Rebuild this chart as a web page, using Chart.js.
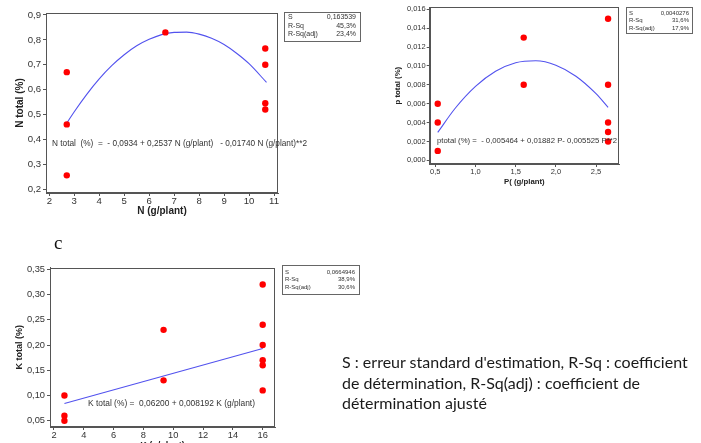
<!DOCTYPE html>
<html><head><meta charset="utf-8">
<script src="https://cdn.jsdelivr.net/npm/chart.js@4.4.1/dist/chart.umd.min.js"></script>
<style>
html,body{margin:0;padding:0;background:#fff;width:701px;height:443px;overflow:hidden;position:relative}
canvas{position:absolute}
.note{position:absolute;left:342px;font-family:Lato,'Open Sans',sans-serif;font-size:16px;line-height:20px;color:#1a1a1a;white-space:nowrap}
.lbl{position:absolute;left:54px;top:233px;font-family:'Liberation Serif',serif;font-size:19px;line-height:20px;color:#111}
</style></head><body>
<canvas id="cA" width="380" height="220" style="left:0;top:0"></canvas>
<canvas id="cB" width="321" height="200" style="left:380px;top:0"></canvas>
<canvas id="cC" width="380" height="240" style="left:0;top:220px"></canvas>
<div class="lbl">c</div>
<div class="note" style="top:352px">S : erreur standard d'estimation, R-Sq : coefficient</div>
<div class="note" style="top:373px">de détermination, R-Sq(adj) : coefficient de</div>
<div class="note" style="top:393px">détermination ajusté</div>
<script>
// ---- Chart A : N ----
const xA = [2.7, 2.7, 2.7, 6.65, 10.65, 10.65, 10.65, 10.65];
const yA = [0.67, 0.46, 0.255, 0.83, 0.765, 0.70, 0.545, 0.52];
const fitXA = [2.7, 3, 3.5, 4, 4.5, 5, 5.5, 6, 6.5, 7, 7.5, 8, 8.5, 9, 9.5, 10, 10.7];
const fitYA = [0.465, 0.511, 0.581, 0.643, 0.696, 0.740, 0.776, 0.802, 0.821, 0.830, 0.831, 0.823, 0.806, 0.781, 0.746, 0.704, 0.629];
const xTicksA = [2, 3, 4, 5, 6, 7, 8, 9, 10, 11];
const xLabelsA = ['2', '3', '4', '5', '6', '7', '8', '9', '10', '11'];
const yTicksA = [0.2, 0.3, 0.4, 0.5, 0.6, 0.7, 0.8, 0.9];
const yLabelsA = ['0,2', '0,3', '0,4', '0,5', '0,6', '0,7', '0,8', '0,9'];
const statsLabelsA = ['S', 'R-Sq', 'R-Sq(adj)'];
const statsValuesA = ['0,163539', '45,3%', '23,4%'];
const eqA = 'N total  (%)  =  - 0,0934 + 0,2537 N (g/plant)   - 0,01740 N (g/plant)**2';

// ---- Chart B : P ----
const xB = [0.53, 0.53, 0.53, 1.6, 1.6, 2.65, 2.65, 2.65, 2.65, 2.65];
const yB = [0.006, 0.004, 0.001, 0.013, 0.008, 0.015, 0.008, 0.004, 0.003, 0.002];
const fitXB = [0.53, 0.75, 1.0, 1.25, 1.5, 1.75, 2.0, 2.25, 2.5, 2.65];
const fitYB = [0.00296, 0.00554, 0.00783, 0.00943, 0.01034, 0.01055, 0.01008, 0.00891, 0.00706, 0.00561];
const xTicksB = [0.5, 1.0, 1.5, 2.0, 2.5];
const xLabelsB = ['0,5', '1,0', '1,5', '2,0', '2,5'];
const yTicksB = [0, 0.002, 0.004, 0.006, 0.008, 0.010, 0.012, 0.014, 0.016];
const yLabelsB = ['0,000', '0,002', '0,004', '0,006', '0,008', '0,010', '0,012', '0,014', '0,016'];
const statsLabelsB = ['S', 'R-Sq', 'R-Sq(adj)'];
const statsValuesB = ['0,0040276', '31,6%', '17,9%'];
const eqB = 'ptotal (%) =  - 0,005464 + 0,01882 P- 0,005525 P**2';

// ---- Chart C : K ----
const xC = [2.7, 2.7, 2.7, 9.35, 9.35, 16, 16, 16, 16, 16, 16];
const yC = [0.10, 0.06, 0.05, 0.23, 0.13, 0.32, 0.24, 0.20, 0.17, 0.16, 0.11];
const fitXC = [2.7, 16];
const fitYC = [0.0841, 0.1931];
const xTicksC = [2, 4, 6, 8, 10, 12, 14, 16];
const xLabelsC = ['2', '4', '6', '8', '10', '12', '14', '16'];
const yTicksC = [0.05, 0.10, 0.15, 0.20, 0.25, 0.30, 0.35];
const yLabelsC = ['0,05', '0,10', '0,15', '0,20', '0,25', '0,30', '0,35'];
const statsLabelsC = ['S', 'R-Sq', 'R-Sq(adj)'];
const statsValuesC = ['0,0664946', '38,9%', '30,6%'];
const eqC = 'K total (%) =  0,06200 + 0,008192 K (g/plant)';

const AX = '#555';
const TXT = '#333';

const deco = {
  id: 'deco',
  afterDatasetsDraw(chart, args, o) {
    const ctx = chart.ctx, ca = chart.chartArea;
    ctx.save();
    ctx.strokeStyle = AX; ctx.lineWidth = 1;
    ctx.strokeRect(Math.round(ca.left) + 0.5, Math.round(ca.top) + 0.5,
      Math.round(ca.right) - Math.round(ca.left) - 1, Math.round(ca.bottom) - Math.round(ca.top) - 1);
    // equation
    ctx.fillStyle = TXT;
    ctx.font = o.eqFont;
    ctx.textBaseline = 'middle'; ctx.textAlign = 'left';
    ctx.fillText(o.eq, o.eqX - o.ox, o.eqY - o.oy, o.eqW);
    // stats box
    const b = o.box;
    ctx.fillStyle = '#fff';
    ctx.fillRect(b.l - o.ox, b.t - o.oy, b.r - b.l, b.b - b.t);
    ctx.strokeStyle = '#666';
    ctx.strokeRect(b.l - o.ox + 0.5, b.t - o.oy + 0.5, b.r - b.l, b.b - b.t);
    ctx.fillStyle = TXT; ctx.font = o.boxFont;
    for (let i = 0; i < o.sl.length; i++) {
      ctx.textAlign = 'left';
      ctx.fillText(o.sl[i], b.lx - o.ox, b.rows[i] - o.oy);
      ctx.textAlign = 'right';
      ctx.fillText(o.sv[i], b.vx - o.ox, b.rows[i] - o.oy);
    }
    ctx.restore();
  }
};

function build(id, c) {
  const pts = c.x.map((v, i) => ({x: v, y: c.y[i]}));
  const fit = c.fx.map((v, i) => ({x: v, y: c.fy[i]}));
  const tickFont = {family: 'Liberation Sans', size: c.fs};
  const titleFont = {family: 'Liberation Sans', size: c.tfs, weight: 'bold'};
  return new Chart(document.getElementById(id), {
    type: 'scatter',
    data: {datasets: [
      {data: pts, backgroundColor: '#ff0000', borderColor: '#ff0000', pointRadius: 3.2, pointBorderWidth: 0, pointHoverRadius: 3.2, order: 1},
      {type: 'line', data: fit, borderColor: '#5252ee', borderWidth: 1.1, pointRadius: 0, cubicInterpolationMode: 'monotone', fill: false, order: 2}
    ]},
    options: {
      responsive: false, animation: false, events: [],
      layout: {padding: {left: 0, top: c.area.t - c.oy, right: c.ox + c.w - c.area.r, bottom: 0}},
      plugins: {legend: {display: false}, tooltip: {enabled: false}, deco: c.deco},
      scales: {
        x: {
          type: 'linear', min: c.xmin, max: c.xmax,
          afterFit(s) { s.height = c.oy + c.h - c.area.b; },
          afterBuildTicks(s) { s.ticks = c.xt.map(v => ({value: v})); },
          ticks: {callback: (v, i) => c.xl[i], font: tickFont, color: TXT, padding: c.xpad, maxRotation: 0, autoSkip: false},
          grid: {drawOnChartArea: false, drawTicks: true, tickLength: 3, color: AX},
          border: {display: true, color: AX},
          title: {display: true, text: c.xtitle, font: titleFont, color: '#222', padding: {top: 0, bottom: c.xtpb}}
        },
        y: {
          type: 'linear', min: c.ymin, max: c.ymax,
          afterFit(s) { s.width = c.area.l - c.ox; },
          afterBuildTicks(s) { s.ticks = c.yt.map(v => ({value: v})); },
          ticks: {callback: (v, i) => c.yl[i], font: tickFont, color: TXT, padding: c.ypad, autoSkip: false},
          grid: {drawOnChartArea: false, drawTicks: true, tickLength: 3, color: AX},
          border: {display: true, color: AX},
          title: {display: true, text: c.ytitle, font: titleFont, color: '#222', padding: {top: c.ytpt, bottom: 0}}
        }
      }
    },
    plugins: [deco]
  });
}

build('cA', {
  ox: 0, oy: 0, w: 380, h: 220, area: {l: 46, t: 13, r: 278, b: 193},
  x: xA, y: yA, fx: fitXA, fy: fitYA, xt: xTicksA, xl: xLabelsA, yt: yTicksA, yl: yLabelsA,
  xmin: 1.868, xmax: 11.16, ymin: 0.184, ymax: 0.908, fs: 9.6, tfs: 10,
  xpad: 0, ypad: 2, xtitle: 'N (g/plant)', ytitle: 'N total (%)', xtpb: 3, ytpt: 14,
  deco: {ox: 0, oy: 0, eq: eqA, eqX: 52, eqY: 143, eqW: 255, eqFont: '9.6px "Liberation Sans"',
    sl: statsLabelsA, sv: statsValuesA, boxFont: '7px "Liberation Sans"',
    box: {l: 284, t: 12, r: 360, b: 41, lx: 288, vx: 356, rows: [17.5, 25.8, 34]}}
});

build('cB', {
  ox: 380, oy: 0, w: 321, h: 200, area: {l: 429.7, t: 7.3, r: 619, b: 164},
  x: xB, y: yB, fx: fitXB, fy: fitYB, xt: xTicksB, xl: xLabelsB, yt: yTicksB, yl: yLabelsB,
  xmin: 0.430, xmax: 2.786, ymin: -0.00039, ymax: 0.01621, fs: 7.5, tfs: 7.8,
  xpad: 0, ypad: 1, xtitle: 'P( (g/plant)', ytitle: 'p total (%)', xtpb: 13, ytpt: 13.5,
  deco: {ox: 380, oy: 0, eq: eqB, eqX: 437, eqY: 141, eqW: 180, eqFont: '8px "Liberation Sans"',
    sl: statsLabelsB, sv: statsValuesB, boxFont: '6px "Liberation Sans"',
    box: {l: 626, t: 7, r: 692, b: 33, lx: 629, vx: 689, rows: [13.3, 20.6, 28]}}
});

build('cC', {
  ox: 0, oy: 220, w: 380, h: 240, area: {l: 50, t: 267.7, r: 275, b: 427},
  x: xC, y: yC, fx: fitXC, fy: fitYC, xt: xTicksC, xl: xLabelsC, yt: yTicksC, yl: yLabelsC,
  xmin: 1.732, xmax: 16.825, ymin: 0.0375, ymax: 0.3532, fs: 9.3, tfs: 9,
  xpad: 0, ypad: 2, xtitle: 'K (g/plant)', ytitle: 'K total (%)', xtpb: 8.6, ytpt: 14.6,
  deco: {ox: 0, oy: 220, eq: eqC, eqX: 88, eqY: 404, eqW: 167, eqFont: '9px "Liberation Sans"',
    sl: statsLabelsC, sv: statsValuesC, boxFont: '6px "Liberation Sans"',
    box: {l: 282, t: 265, r: 359, b: 294, lx: 285, vx: 355, rows: [272, 279.5, 287]}}
});
</script>
</body></html>
